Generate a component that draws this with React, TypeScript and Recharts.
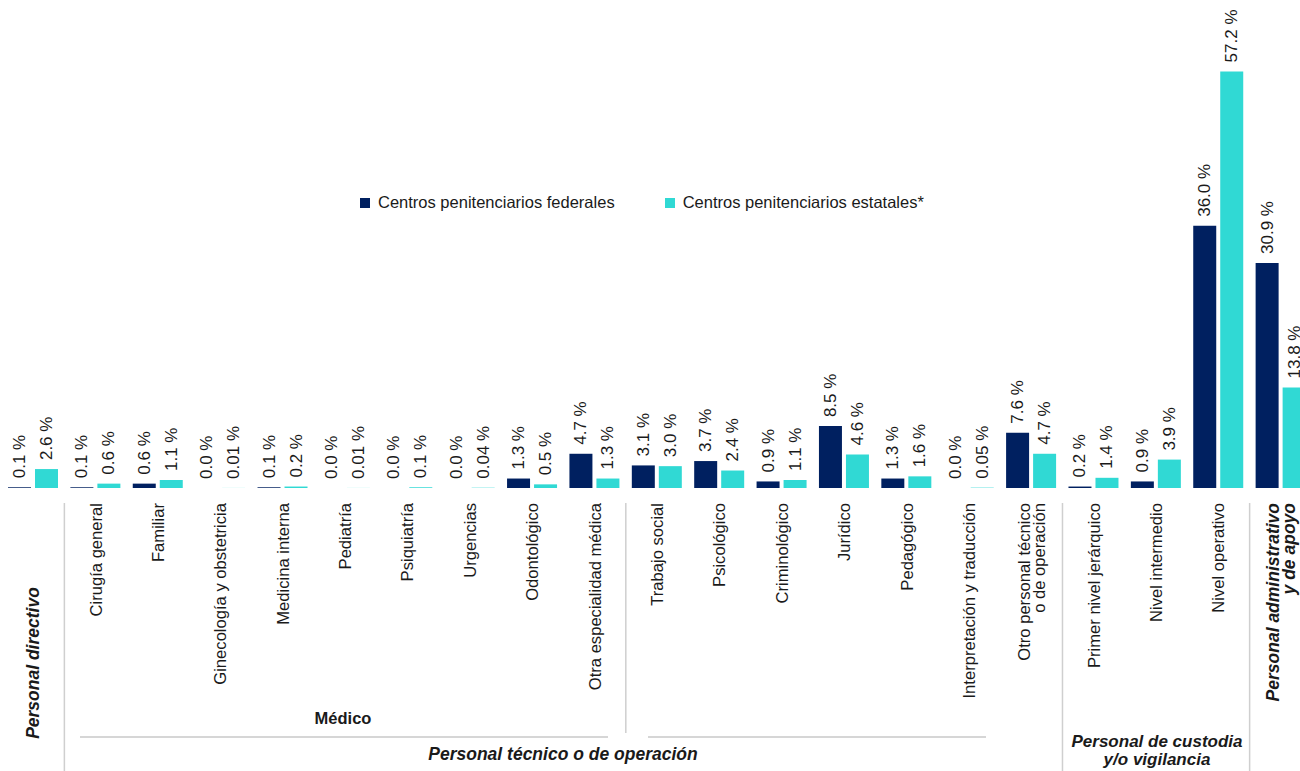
import React from 'react';
import { BarChart, Bar, XAxis, YAxis, Legend, LabelList } from 'recharts';

const categories = [
  'Personal directivo',
  'Cirugía general',
  'Familiar',
  'Ginecología y obstetricia',
  'Medicina interna',
  'Pediatría',
  'Psiquiatría',
  'Urgencias',
  'Odontológico',
  'Otra especialidad médica',
  'Trabajo social',
  'Psicológico',
  'Criminológico',
  'Jurídico',
  'Pedagógico',
  'Interpretación y traducción',
  'Otro personal técnico\no de operación',
  'Primer nivel jerárquico',
  'Nivel intermedio',
  'Nivel operativo',
  'Personal administrativo\ny de apoyo',
];

const federales = [0.1, 0.1, 0.6, 0.0, 0.1, 0.0, 0.0, 0.0, 1.3, 4.7, 3.1, 3.7, 0.9, 8.5, 1.3, 0.0, 7.6, 0.2, 0.9, 36.0, 30.9];
const estatales = [2.6, 0.6, 1.1, 0.01, 0.2, 0.01, 0.1, 0.04, 0.5, 1.3, 3.0, 2.4, 1.1, 4.6, 1.6, 0.05, 4.7, 1.4, 3.9, 57.2, 13.8];

const SERIES = [
  { key: 'federales', name: 'Centros penitenciarios federales', color: '#002060' },
  { key: 'estatales', name: 'Centros penitenciarios estatales*', color: '#30D9D4' },
];

const data = categories.map((name, i) => ({
  name,
  federales: federales[i],
  estatales: estatales[i],
}));

const FONT = '"Liberation Sans", Arial, sans-serif';
const CHART_W = 1312;
const CHART_H = 771;
const MARGIN = { top: 51, right: 0, bottom: 0, left: 2 };
const AXIS_H = 283;
const BAND = (CHART_W - MARGIN.left - MARGIN.right) / categories.length;
const TEXT = '#1a1a1a';

const fmt = (v: number) => (v > 0 && v < 0.1 ? v.toFixed(2) : v.toFixed(1)) + ' %';

const ValueLabel = (props: any) => {
  const { x, y, width, height, value } = props;
  const cx = x + width / 2;
  // zero bars may come through with a tiny min height; anchor on the baseline
  const top = Math.min(y, y + height);
  const ty = top - 9;
  return (
    <text
      transform={`translate(${cx},${ty}) rotate(-90)`}
      textAnchor="start"
      dominantBaseline="central"
      fontSize={17}
      fontFamily={FONT}
      fill={TEXT}
    >
      {fmt(value)}
    </text>
  );
};

const CategoryTick = (props: any) => {
  const { x, payload } = props;
  const name: string = payload.value;
  if (name === 'Personal directivo') {
    return (
      <text
        transform={`translate(${x},663) rotate(-90)`}
        textAnchor="middle"
        dominantBaseline="central"
        fontSize={17.5}
        fontWeight="bold"
        fontStyle="italic"
        fontFamily={FONT}
        fill={TEXT}
      >
        {name}
      </text>
    );
  }
  const group = name.startsWith('Personal administrativo');
  const lines = name.split('\n');
  const lh = group ? 16 : 15;
  return (
    <text
      transform={`translate(${x},503) rotate(-90)`}
      textAnchor="end"
      dominantBaseline="central"
      fontSize={group ? 17.5 : 16.6}
      fontWeight={group ? 'bold' : 'normal'}
      fontStyle={group ? 'italic' : 'normal'}
      fontFamily={FONT}
      fill={TEXT}
    >
      {lines.map((l, i) => (
        <tspan key={i} x={0} dy={i === 0 ? -((lines.length - 1) / 2) * lh : lh}>
          {l}
        </tspan>
      ))}
    </text>
  );
};

const renderLegend = () => (
  <div style={{ display: 'flex', fontFamily: FONT, fontSize: 16.5, color: TEXT }}>
    {SERIES.map((s, i) => (
      <div key={s.key} style={{ display: 'flex', alignItems: 'center', marginRight: i === 0 ? 50 : 0 }}>
        <span style={{ width: 10, height: 10, background: s.color, marginRight: 8, display: 'inline-block' }} />
        <span>{s.name}</span>
      </div>
    ))}
  </div>
);

const sep = (k: number) => MARGIN.left + BAND * k;

const GroupOverlay = () => (
  <svg
    width={1300}
    height={771}
    style={{ position: 'absolute', left: 0, top: 0, pointerEvents: 'none' }}
    fontFamily={FONT}
  >
    <g stroke="#cfcfcf" strokeWidth={1.5}>
      <line x1={sep(1)} x2={sep(1)} y1={503} y2={771} />
      <line x1={sep(10)} x2={sep(10)} y1={503} y2={733} />
      <line x1={sep(17)} x2={sep(17)} y1={503} y2={771} />
      <line x1={sep(20)} x2={sep(20)} y1={503} y2={771} />
    </g>
    <g stroke="#d6d6d6" strokeWidth={2}>
      <line x1={80} x2={608} y1={737} y2={737} />
      <line x1={648} x2={986} y1={737} y2={737} />
    </g>
    <text x={343} y={718} textAnchor="middle" dominantBaseline="central" fontSize={16.5} fontWeight="bold" fill={TEXT}>
      Médico
    </text>
    <text x={563} y={754} textAnchor="middle" dominantBaseline="central" fontSize={17.5} fontWeight="bold" fontStyle="italic" fill={TEXT}>
      Personal técnico o de operación
    </text>
    <text x={1157} y={741} textAnchor="middle" dominantBaseline="central" fontSize={17} fontWeight="bold" fontStyle="italic" fill={TEXT}>
      Personal de custodia
    </text>
    <text x={1157} y={759} textAnchor="middle" dominantBaseline="central" fontSize={17} fontWeight="bold" fontStyle="italic" fill={TEXT}>
      y/o vigilancia
    </text>
  </svg>
);

export default function App() {
  return (
    <div
      style={{
        position: 'absolute',
        left: 0,
        top: 0,
        width: 1300,
        height: 771,
        overflow: 'hidden',
        background: '#fff',
        fontFamily: FONT,
      }}
    >
      <BarChart width={CHART_W} height={CHART_H} data={data} margin={MARGIN} barSize={23} barGap={4}>
        <XAxis
          dataKey="name"
          interval={0}
          height={AXIS_H}
          axisLine={false}
          tickLine={false}
          tick={<CategoryTick />}
        />
        <YAxis hide domain={[0, 60]} />
        <Legend
          verticalAlign="middle"
          layout="horizontal"
          wrapperStyle={{ top: 193, left: 360, width: 700 }}
          content={renderLegend}
        />
        {SERIES.map((s) => (
          <Bar
            key={s.key}
            dataKey={s.key}
            name={s.name}
            fill={s.color}
            minPointSize={0.01}
            isAnimationActive={false}
          >
            <LabelList dataKey={s.key} content={<ValueLabel />} />
          </Bar>
        ))}
      </BarChart>
      <GroupOverlay />
    </div>
  );
}
